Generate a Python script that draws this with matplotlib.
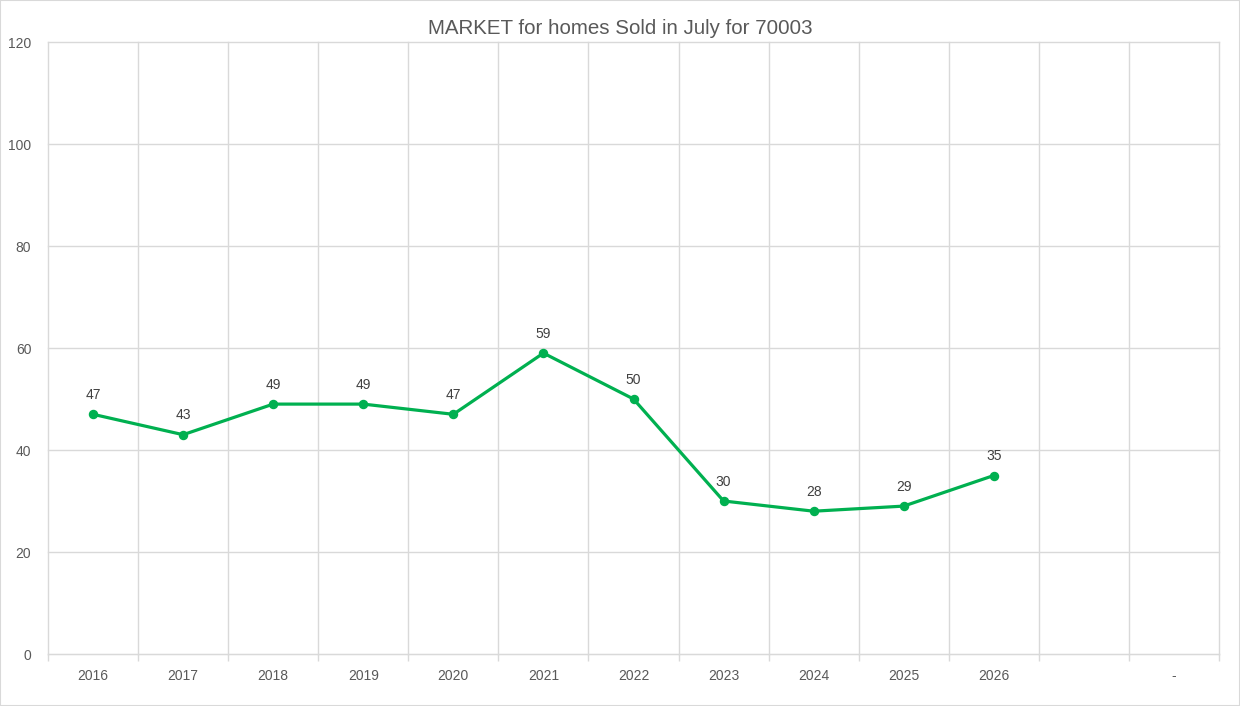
import numpy as np
import matplotlib
matplotlib.use('Agg')
import matplotlib.pyplot as plt
from matplotlib.patches import Rectangle

plt.rcParams['font.family'] = ['Liberation Sans', 'DejaVu Sans']

title = 'MARKET for homes Sold in July for 70003'
categories = ['2016', '2017', '2018', '2019', '2020', '2021', '2022',
              '2023', '2024', '2025', '2026', '', '-']
sold = [47, 43, 49, 49, 47, 59, 50, 30, 28, 29, 35]

GREEN = '#00B050'
GRID = '#d9d9d9'
TXT = '#595959'

fig = plt.figure(figsize=(12.4, 7.06), dpi=100)
ax = fig.add_axes([48/1240, 1-654/706, (1219-48)/1240, (654-42)/706])

x = np.arange(len(categories))
xs = x[:len(sold)]
ax.plot(xs, sold, color=GREEN, lw=2.3, marker='o', ms=5.8, zorder=3)
for xi, v in zip(xs, sold):
    ax.annotate(str(v), (xi, v), xytext=(0, 9), textcoords='offset points',
                ha='center', va='bottom', fontsize=10, color='#404040')

ax.set_xlim(-0.5, len(categories) - 0.5)
ax.set_ylim(0, 120)
ax.set_yticks(range(0, 121, 20))
ax.set_xticks(x)
ax.set_xticklabels(categories)
ax.set_xticks(np.arange(-0.5, len(categories)), minor=True)

ax.grid(True, axis='y', color=GRID, lw=1, clip_on=False)
ax.grid(True, axis='x', which='minor', color=GRID, lw=1, clip_on=False)
ax.tick_params(axis='x', which='major', length=0, pad=11, labelsize=10, labelcolor=TXT)
ax.tick_params(axis='x', which='minor', length=5, color=GRID, width=1)
ax.tick_params(axis='y', length=0, pad=12, labelsize=10, labelcolor=TXT)
ax.set_axisbelow(True)

for s in ['top', 'right', 'left']:
    ax.spines[s].set_visible(False)
ax.spines['bottom'].set_color(GRID)

fig.text(0.5, 1-28/706, title, ha='center', va='center', fontsize=14.8, color=TXT)
fig.patches.append(Rectangle((0, 0), 1, 1, transform=fig.transFigure,
                             fill=False, edgecolor=GRID, lw=1.5))

plt.savefig('out.png', dpi=100)
